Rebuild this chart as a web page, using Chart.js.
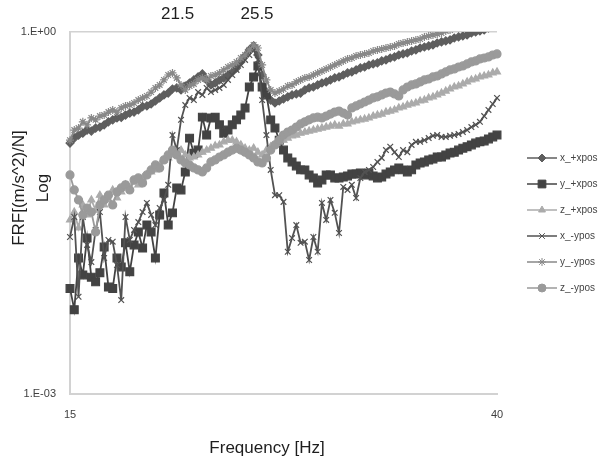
<!DOCTYPE html>
<html>
<head>
<meta charset="utf-8">
<script src="https://cdn.jsdelivr.net/npm/chart.js@4/dist/chart.umd.min.js"></script>
<style>
  html, body { margin: 0; padding: 0; background: #fff; }
  #wrap { width: 603px; height: 460px; }
</style>
</head>
<body>
<div id="wrap"><canvas id="c" width="603" height="460"></canvas></div>
<script>
// frequency grid [Hz]
const freqs = [
  15, 15.25, 15.5, 15.75, 16, 16.25, 16.5, 16.75, 17, 17.25,
  17.5, 17.75, 18, 18.25, 18.5, 18.75, 19, 19.25, 19.5, 19.75,
  20, 20.25, 20.5, 20.75, 21, 21.25, 21.5, 21.75, 22, 22.25,
  22.5, 22.75, 23, 23.25, 23.5, 23.75, 24, 24.25, 24.5, 24.75,
  25, 25.25, 25.5, 25.75, 26, 26.25, 26.5, 26.75, 27, 27.25,
  27.5, 27.75, 28, 28.25, 28.5, 28.75, 29, 29.25, 29.5, 29.75,
  30, 30.25, 30.5, 30.75, 31, 31.25, 31.5, 31.75, 32, 32.25,
  32.5, 32.75, 33, 33.25, 33.5, 33.75, 34, 34.25, 34.5, 34.75,
  35, 35.25, 35.5, 35.75, 36, 36.25, 36.5, 36.75, 37, 37.25,
  37.5, 37.75, 38, 38.25, 38.5, 38.75, 39, 39.25, 39.5, 39.75, 40
];

// FRF magnitudes [(m/s^2)/N]
const xPlusX = [
  0.120, 0.132, 0.140, 0.145, 0.154, 0.151, 0.160, 0.163, 0.170, 0.180,
  0.187, 0.194, 0.196, 0.205, 0.213, 0.217, 0.226, 0.241, 0.244, 0.253,
  0.268, 0.284, 0.301, 0.312, 0.337, 0.344, 0.331, 0.357, 0.378, 0.401,
  0.424, 0.449, 0.401, 0.364, 0.378, 0.401, 0.416, 0.440, 0.467, 0.504,
  0.565, 0.633, 0.710, 0.766, 0.645, 0.440, 0.318, 0.273, 0.258, 0.268,
  0.279, 0.290, 0.301, 0.307, 0.312, 0.331, 0.344, 0.350, 0.364, 0.378,
  0.386, 0.401, 0.416, 0.424, 0.440, 0.458, 0.467, 0.485, 0.504, 0.513,
  0.533, 0.544, 0.554, 0.576, 0.587, 0.609, 0.621, 0.645, 0.658, 0.670,
  0.696, 0.710, 0.737, 0.751, 0.766, 0.781, 0.811, 0.827, 0.843, 0.859,
  0.892, 0.910, 0.927, 0.945, 0.981, 1.00, 1.02, 1.04, 1.08, 1.10, 1.12
];
const yPlusX = [
  0.0075, 0.0050, 0.0134, 0.0097, 0.0196, 0.0093, 0.0085, 0.0101, 0.0165, 0.0077,
  0.0075, 0.0134, 0.0113, 0.0179, 0.0103, 0.0172, 0.0220, 0.0162, 0.0252, 0.0220,
  0.0134, 0.0305, 0.0464, 0.0252, 0.0317, 0.0510, 0.0491, 0.0692, 0.132, 0.099,
  0.105, 0.197, 0.140, 0.194, 0.197, 0.170, 0.145, 0.154, 0.170, 0.187,
  0.205, 0.235, 0.350, 0.424, 0.523, 0.350, 0.301, 0.187, 0.160, 0.127,
  0.105, 0.0904, 0.0838, 0.0777, 0.0720, 0.0720, 0.0654, 0.0617, 0.0561, 0.0594,
  0.0654, 0.0654, 0.0617, 0.0617, 0.0629, 0.0641, 0.0666, 0.0666, 0.0679, 0.0654,
  0.0679, 0.0641, 0.0617, 0.0629, 0.0666, 0.0692, 0.0720, 0.0747, 0.0720, 0.0692,
  0.0720, 0.0791, 0.0822, 0.0838, 0.0870, 0.0886, 0.0921, 0.0921, 0.0957, 0.0994,
  0.101, 0.105, 0.109, 0.112, 0.116, 0.120, 0.123, 0.125, 0.130, 0.135, 0.140
];
const zPlusX = [
  0.0277, 0.0322, 0.0238, 0.0369, 0.0305, 0.0406, 0.0334, 0.0444, 0.0369, 0.0406,
  0.0491, 0.0421, 0.0473, 0.0541, 0.0510, 0.0571, 0.0541, 0.0617, 0.0654, 0.0692,
  0.0720, 0.0791, 0.0870, 0.0904, 0.0957, 0.101, 0.105, 0.0957, 0.0904, 0.0921,
  0.0957, 0.101, 0.105, 0.109, 0.114, 0.116, 0.123, 0.127, 0.127, 0.123,
  0.116, 0.109, 0.105, 0.109, 0.101, 0.0957, 0.105, 0.112, 0.116, 0.123,
  0.127, 0.132, 0.138, 0.140, 0.145, 0.148, 0.151, 0.154, 0.157, 0.160,
  0.163, 0.166, 0.170, 0.166, 0.173, 0.173, 0.180, 0.183, 0.187, 0.190,
  0.194, 0.201, 0.205, 0.209, 0.217, 0.221, 0.226, 0.235, 0.239, 0.248,
  0.253, 0.258, 0.268, 0.273, 0.284, 0.290, 0.301, 0.312, 0.324, 0.337,
  0.350, 0.357, 0.371, 0.386, 0.401, 0.408, 0.424, 0.432, 0.440, 0.458, 0.467
];
const xMinusY = [
  0.0200, 0.0293, 0.0064, 0.0293, 0.0172, 0.0124, 0.0229, 0.0322, 0.0134, 0.0189,
  0.0183, 0.0117, 0.0060, 0.0293, 0.0189, 0.0229, 0.0266, 0.0322, 0.0383, 0.0305,
  0.0251, 0.0348, 0.0406, 0.0541, 0.140, 0.105, 0.187, 0.248, 0.284, 0.273,
  0.318, 0.301, 0.344, 0.318, 0.331, 0.344, 0.364, 0.401, 0.440, 0.485,
  0.533, 0.587, 0.645, 0.710, 0.587, 0.273, 0.140, 0.0720, 0.0444, 0.0444,
  0.0391, 0.0151, 0.0196, 0.0251, 0.0179, 0.0183, 0.0129, 0.0200, 0.0151, 0.0383,
  0.0277, 0.0406, 0.0317, 0.0216, 0.0520, 0.0491, 0.0541, 0.0421, 0.0617, 0.0692,
  0.0720, 0.0761, 0.0838, 0.0904, 0.105, 0.112, 0.101, 0.0921, 0.105, 0.101,
  0.116, 0.123, 0.123, 0.127, 0.132, 0.138, 0.140, 0.135, 0.135, 0.138,
  0.140, 0.143, 0.148, 0.154, 0.163, 0.170, 0.180, 0.201, 0.226, 0.253, 0.284
];
const yMinusY = [
  0.127, 0.154, 0.160, 0.180, 0.170, 0.194, 0.187, 0.201, 0.205, 0.217,
  0.226, 0.217, 0.235, 0.244, 0.248, 0.258, 0.273, 0.284, 0.295, 0.318,
  0.344, 0.364, 0.401, 0.440, 0.458, 0.416, 0.364, 0.331, 0.357, 0.371,
  0.401, 0.416, 0.401, 0.432, 0.440, 0.458, 0.485, 0.513, 0.533, 0.565,
  0.609, 0.645, 0.710, 0.781, 0.737, 0.533, 0.401, 0.331, 0.312, 0.324,
  0.337, 0.357, 0.364, 0.386, 0.401, 0.416, 0.424, 0.440, 0.458, 0.476,
  0.494, 0.513, 0.533, 0.554, 0.576, 0.598, 0.609, 0.633, 0.645, 0.658,
  0.670, 0.696, 0.710, 0.723, 0.737, 0.751, 0.766, 0.796, 0.811, 0.827,
  0.843, 0.859, 0.875, 0.910, 0.927, 0.945, 0.963, 0.981, 1.02, 1.04,
  1.08, 1.10, 1.12, 1.14, 1.16, 1.19, 1.21, 1.23, 1.26, 1.31, 1.33
];
const zMinusY = [
  0.0654, 0.0491, 0.0406, 0.0305, 0.0348, 0.0322, 0.0220, 0.0369, 0.0406, 0.0444,
  0.0369, 0.0473, 0.0510, 0.0541, 0.0491, 0.0594, 0.0617, 0.0561, 0.0654, 0.0720,
  0.0791, 0.0747, 0.0870, 0.0957, 0.105, 0.0957, 0.0870, 0.0822, 0.0791, 0.0747,
  0.0720, 0.0692, 0.0747, 0.0838, 0.0870, 0.0921, 0.0957, 0.101, 0.105, 0.109,
  0.105, 0.101, 0.0957, 0.0904, 0.0838, 0.0822, 0.0904, 0.105, 0.116, 0.127,
  0.140, 0.148, 0.154, 0.163, 0.173, 0.180, 0.187, 0.194, 0.197, 0.194,
  0.201, 0.209, 0.217, 0.221, 0.213, 0.205, 0.235, 0.244, 0.253, 0.263,
  0.273, 0.284, 0.290, 0.301, 0.312, 0.318, 0.307, 0.295, 0.331, 0.350,
  0.364, 0.371, 0.386, 0.401, 0.408, 0.424, 0.432, 0.449, 0.467, 0.485,
  0.494, 0.513, 0.523, 0.544, 0.565, 0.576, 0.598, 0.609, 0.621, 0.645, 0.658
];

const seriesNames = ['x_+xpos', 'y_+xpos', 'z_+xpos', 'x_-ypos', 'y_-ypos', 'z_-ypos'];
const seriesValues = [xPlusX, yPlusX, zPlusX, xMinusY, yMinusY, zMinusY];
const peakLabels = ['21.5', '25.5'];
const xTickValues = [15, 40];
const yTickValues = [0.001, 1];

const colors = ['#5e5e5e', '#434343', '#ababab', '#525252', '#888888', '#9a9a9a'];
const markers = ['rectRot', 'rect', 'triangle', 'crossRot', 'star', 'circle'];
const markerRadius = [4, 5.5, 4, 4, 4, 4];
const FONT = '"Liberation Sans", Arial, sans-serif';

function sciLabel(v) {
  const e = Math.round(Math.log10(v));
  return '1.E' + (e < 0 ? '-' : '+') + String(Math.abs(e)).padStart(2, '0');
}

const datasets = seriesNames.map((name, i) => ({
  label: name,
  data: freqs.map((f, k) => ({ x: f, y: seriesValues[i][k] })),
  borderColor: colors[i],
  backgroundColor: colors[i],
  borderWidth: 1.8,
  pointStyle: markers[i],
  pointRadius: markerRadius[i],
  pointBackgroundColor: colors[i],
  pointBorderColor: colors[i],
  pointBorderWidth: 1.2,
  tension: 0,
  order: seriesNames.length - i,
  clip: { left: 7, top: 0, right: 7, bottom: 7 }
}));

// axis titles, peak labels and the line+marker legend
const overlay = {
  id: 'overlay',
  afterDraw(chart) {
    const ctx = chart.ctx;
    const xs = chart.scales.x;
    ctx.save();
    ctx.fillStyle = '#1e1e1e';
    ctx.font = '17px ' + FONT;
    ctx.textAlign = 'center';
    ctx.textBaseline = 'middle';
    ctx.fillText(peakLabels[0], xs.getPixelForValue(21.3), 14);
    ctx.fillText(peakLabels[1], xs.getPixelForValue(25.95), 14);
    ctx.fillText('Frequency [Hz]', 267, 448);

    ctx.save();
    ctx.translate(19, 188);
    ctx.rotate(-Math.PI / 2);
    ctx.fillText('FRF[(m/s^2)/N]', 0, 0);
    ctx.restore();
    ctx.save();
    ctx.translate(43, 188);
    ctx.rotate(-Math.PI / 2);
    ctx.fillText('Log', 0, 0);
    ctx.restore();

    chart.data.datasets.forEach((ds, i) => {
      const y = 158 + 26 * i;
      ctx.strokeStyle = ds.borderColor;
      ctx.lineWidth = 1.5;
      ctx.beginPath();
      ctx.moveTo(527, y);
      ctx.lineTo(557, y);
      ctx.stroke();
      ctx.fillStyle = ds.pointBackgroundColor;
      ctx.lineWidth = 1;
      Chart.helpers.drawPoint(ctx, {
        pointStyle: ds.pointStyle, radius: ds.pointRadius, rotation: 0, borderWidth: 1
      }, 542, y);
      ctx.fillStyle = '#444444';
      ctx.font = '10px ' + FONT;
      ctx.textAlign = 'left';
      ctx.fillText(ds.label, 560, y);
    });
    ctx.restore();
  }
};

new Chart(document.getElementById('c'), {
  type: 'line',
  data: { datasets },
  options: {
    responsive: false,
    animation: false,
    events: [],
    layout: { padding: { top: 32, right: 106, left: 0, bottom: 0 } },
    plugins: {
      legend: { display: false },
      tooltip: { enabled: false }
    },
    scales: {
      x: {
        type: 'linear',
        min: 15,
        max: 40,
        afterFit: (s) => { s.height = 66; },
        afterBuildTicks: (s) => { s.ticks = xTickValues.map(v => ({ value: v })); },
        grid: { display: false, drawTicks: false },
        border: { display: true, color: '#d2d2d2', width: 2 },
        ticks: {
          padding: 14,
          maxRotation: 0,
          color: '#404040',
          font: { family: FONT, size: 11 }
        }
      },
      y: {
        type: 'logarithmic',
        min: 0.001,
        max: 1,
        afterFit: (s) => { s.width = 70; },
        afterBuildTicks: (s) => { s.ticks = yTickValues.map(v => ({ value: v })); },
        grid: { color: '#d2d2d2', lineWidth: 1.5, drawTicks: false },
        border: { display: true, color: '#d2d2d2', width: 2 },
        ticks: {
          padding: 14,
          color: '#404040',
          font: { family: FONT, size: 11 },
          callback: (v) => sciLabel(v)
        }
      }
    }
  },
  plugins: [overlay]
});
</script>
</body>
</html>
